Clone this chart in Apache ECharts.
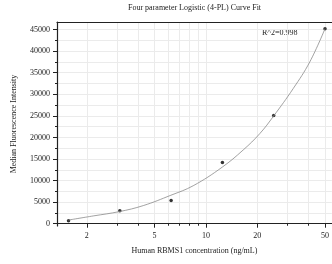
<!DOCTYPE html>
<html>
<head>
<meta charset="utf-8">
<script src="https://cdn.jsdelivr.net/npm/echarts@6/dist/echarts.min.js"></script>
<style>html,body{margin:0;padding:0;background:#fff}#c{width:332px;height:264px}</style>
</head>
<body>
<div id="c"></div>
<script>
// Measured standards
var concentrations = [1.5625, 3.125, 6.25, 12.5, 25, 50];
var mfiValues = [700, 3000, 5400, 14200, 25100, 45200];
// Fitted curve
var curveConc = [1.5625, 2.18, 3.1, 4.29, 6.23, 8.42, 12.46, 16.56, 20.73, 24.9, 32.5, 40.7, 50];
var curveMfi = [850, 1800, 2800, 4200, 6600, 8800, 13100, 17100, 20900, 24900, 31300, 37500, 45200];
// Ticks
var xLabelTicks = [2, 5, 10, 20, 50];
var xMinorTicks = [2, 3, 4, 5, 6, 7, 8, 9, 10, 20, 30, 40, 50];
var yLabelTicks = [0, 5000, 10000, 15000, 20000, 25000, 30000, 35000, 40000, 45000];
var yMinorTicks = [0, 2500, 5000, 7500, 10000, 12500, 15000, 17500, 20000, 22500, 25000, 27500, 30000, 32500, 35000, 37500, 40000, 42500, 45000];
var titleText = 'Four parameter Logistic (4-PL) Curve Fit';
var xName = 'Human RBMS1 concentration (ng/mL)';
var yName = 'Median Fluorescence Intensity';
var r2Text = 'R^2=0.998';

var font = 'Liberation Serif';
var chart = echarts.init(document.getElementById('c'), null, {renderer: 'canvas'});
var xMin = 1.337, xMax = 54.8, yMin = -530, yMax = 46760;
var gridLine = {show: true, lineStyle: {color: '#ebebeb', width: 1}};
chart.setOption({
  animation: false,
  grid: {left: 57, right: 0, top: 22, bottom: 38, containLabel: false},
  graphic: [
    {type: 'text', left: 194 - 66, top: 4, style: {text: titleText, font: '8px "' + font + '"', fill: '#222'}},
    {type: 'text', left: 262, top: 29, style: {text: r2Text, font: '8px "' + font + '"', fill: '#222'}}
  ],
  xAxis: [
    {type: 'log', logBase: 10, min: xMin, max: xMax, position: 'bottom',
     name: xName, nameLocation: 'middle', nameGap: 21,
     nameTextStyle: {fontFamily: font, fontSize: 8, color: '#222'},
     axisLine: {show: true, lineStyle: {color: '#222', width: 1.2}},
     axisTick: {show: true, length: 2, customValues: xMinorTicks, lineStyle: {color: '#222'}},
     axisLabel: {customValues: xLabelTicks, fontFamily: font, fontSize: 8, color: '#222', margin: 6},
     splitLine: gridLine, minorTick: {show: false}},
    {type: 'log', logBase: 10, min: xMin, max: xMax, position: 'bottom',
     axisLine: {show: false},
     axisTick: {show: true, length: 4, customValues: xLabelTicks, lineStyle: {color: '#222'}},
     axisLabel: {show: false}, splitLine: {show: false}},
    {type: 'log', logBase: 10, min: xMin, max: xMax, position: 'top',
     axisLine: {show: true, lineStyle: {color: '#222', width: 1.2}},
     axisTick: {show: false}, axisLabel: {show: false}, splitLine: {show: false}}
  ],
  yAxis: [
    {type: 'value', min: yMin, max: yMax, position: 'left',
     name: yName, nameLocation: 'middle', nameGap: 39, nameRotate: 90,
     nameTextStyle: {fontFamily: font, fontSize: 8, color: '#222'},
     axisLine: {show: true, lineStyle: {color: '#222', width: 1.2}},
     axisTick: {show: true, length: 2, customValues: yMinorTicks, lineStyle: {color: '#222'}},
     axisLabel: {customValues: yLabelTicks, fontFamily: font, fontSize: 8, color: '#222', margin: 7,
                 formatter: function (v) { return String(v); }},
     splitLine: gridLine},
    {type: 'value', min: yMin, max: yMax, position: 'left',
     axisLine: {show: false},
     axisTick: {show: true, length: 4, customValues: yLabelTicks, lineStyle: {color: '#222'}},
     axisLabel: {show: false}, splitLine: {show: false}}
  ],
  series: [
    {type: 'line', smooth: 0.4, showSymbol: false, xAxisIndex: 0, yAxisIndex: 0,
     lineStyle: {color: '#8a8a8a', width: 0.8},
     data: curveConc.map(function (c, i) { return [c, curveMfi[i]]; })},
    {type: 'scatter', symbolSize: 3.5, xAxisIndex: 0, yAxisIndex: 0,
     itemStyle: {color: '#000'},
     data: concentrations.map(function (c, i) { return [c, mfiValues[i]]; })}
  ]
});
</script>
</body>
</html>
